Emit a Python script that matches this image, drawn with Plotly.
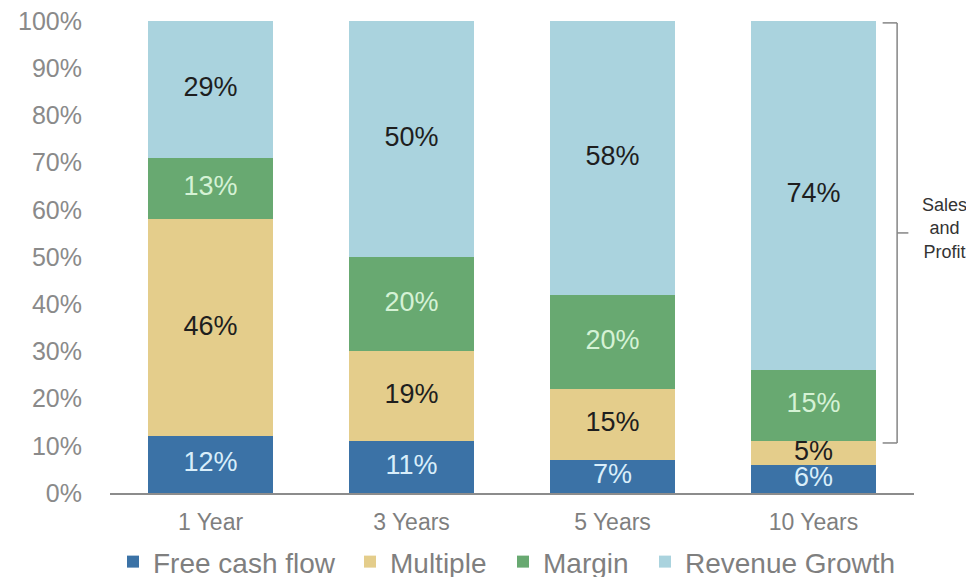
import plotly.graph_objects as go

categories = ["1 Year", "3 Years", "5 Years", "10 Years"]
free_cash_flow = [12, 11, 7, 6]
multiple = [46, 19, 15, 5]
margin = [13, 20, 20, 15]
revenue_growth = [29, 50, 58, 74]
y_ticks = [0, 10, 20, 30, 40, 50, 60, 70, 80, 90, 100]
y_tick_labels = [f"{v}%" for v in y_ticks]

series = [
    ("Free cash flow", free_cash_flow, "#3b72a6", "#d9eefa"),
    ("Multiple", multiple, "#e4cd8b", "#1e1e1e"),
    ("Margin", margin, "#68a971", "#d5f2d5"),
    ("Revenue Growth", revenue_growth, "#aad3de", "#1e1e1e"),
]
legend_ids = ["legend", "legend2", "legend3", "legend4"]
legend_x = [0.0037, 0.2985, 0.4888, 0.6654]

FONT = "Liberation Sans, Arial, sans-serif"
fig = go.Figure()
base = [0] * len(categories)
label_traces = []
for (name, vals, color, tcolor), lid in zip(series, legend_ids):
    fig.add_trace(go.Bar(
        x=categories, y=vals, name=name, marker_color=color,
        marker_line_width=0, hoverinfo="skip", legend=lid,
    ))
    mids = [b + v / 2 for b, v in zip(base, vals)]
    label_traces.append(go.Scatter(
        x=categories, y=mids, mode="text", text=[f"{v}%" for v in vals],
        textfont=dict(family=FONT, size=27, color=tcolor),
        showlegend=False, hoverinfo="skip",
    ))
    base = [b + v for b, v in zip(base, vals)]
for t in label_traces:
    fig.add_trace(t)

# bracket "Sales and Profit"
bx0, bx1, bxt = 0.961, 0.979, 0.993
top, bot = 99.6, 10.6
mid = (top + bot) / 2
line = dict(color="#858585", width=1.5)
fig.add_shape(type="line", xref="paper", yref="y", x0=bx0, x1=bx1, y0=top, y1=top, line=line)
fig.add_shape(type="line", xref="paper", yref="y", x0=bx1, x1=bx1, y0=top, y1=bot, line=line)
fig.add_shape(type="line", xref="paper", yref="y", x0=bx0, x1=bx1, y0=bot, y1=bot, line=line)
fig.add_shape(type="line", xref="paper", yref="y", x0=bx1, x1=bxt, y0=mid, y1=mid, line=line)
fig.add_annotation(xref="paper", yref="y", x=1.038, y=mid, yshift=4, text="Sales<br>and<br>Profit",
                   showarrow=False, font=dict(family=FONT, size=18, color="#333333"),
                   xanchor="center", yanchor="middle", align="center")

legend_common = dict(orientation="h", xanchor="left", y=-0.146, yanchor="middle",
                     font=dict(family=FONT, size=28, color="#7f7f7f"),
                     bgcolor="rgba(0,0,0,0)", borderwidth=0)
legend_layout = {lid: dict(legend_common, x=lx) for lid, lx in zip(legend_ids, legend_x)}

fig.update_layout(
    width=966, height=600,
    margin=dict(l=102, r=60, t=13, b=115, autoexpand=False),
    barmode="stack", bargap=0.38,
    plot_bgcolor="white", paper_bgcolor="white",
    font=dict(family=FONT, color="#808080"),
    xaxis=dict(showline=True, linecolor="#8c8c8c", linewidth=1.5, ticks="", automargin=False,
               tickfont=dict(family=FONT, size=23, color="#7f7f7f"), ticklabelstandoff=8),
    yaxis=dict(range=[0, 100], tickvals=y_ticks, ticktext=y_tick_labels, showgrid=False,
               zeroline=False, showline=False, automargin=False, ticklabeloverflow="allow",
               tickfont=dict(family=FONT, size=25, color="#8a8a8a"), ticklabelstandoff=27),
    **legend_layout,
)

fig.write_html("out.html")
